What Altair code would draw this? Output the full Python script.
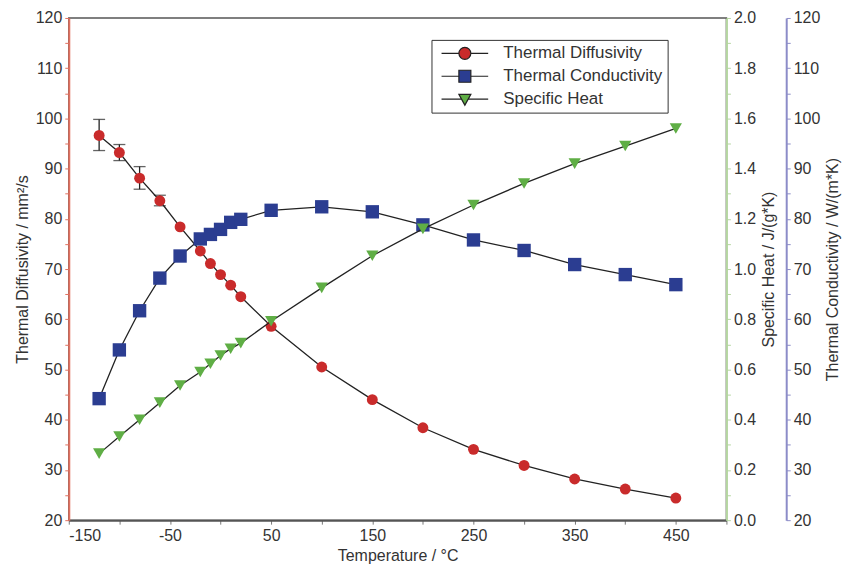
import altair as alt
import pandas as pd

# ---------------- data ----------------
temps = [-120, -100, -80, -60, -40, -20, -10, 0, 10, 20, 50, 100, 150, 200, 250, 300, 350, 400, 450]
diffusivity = [96.6, 93.2, 88.1, 83.6, 78.4, 73.6, 71.1, 68.9, 66.8, 64.5, 58.6, 50.5,
               44.0, 38.4, 34.1, 30.9, 28.2, 26.2, 24.4]
conductivity = [44.2, 53.9, 61.7, 68.2, 72.6, 76.0, 76.9, 77.9, 79.3, 79.9, 81.7, 82.4,
                81.4, 78.8, 75.8, 73.7, 70.9, 68.9, 66.9]
specific_heat = [0.265, 0.333, 0.40, 0.468, 0.536, 0.59, 0.623, 0.656, 0.683, 0.705, 0.792,
                 0.925, 1.053, 1.16, 1.255, 1.341, 1.42, 1.49, 1.56]
err_temps = [-120, -100, -80, -60]
err_low = [93.6, 91.6, 85.9, 82.6]
err_high = [99.8, 94.8, 90.4, 84.7]

series_names = ["Thermal Diffusivity", "Thermal Conductivity", "Specific Heat"]
series_colors = ["#c92b2b", "#2b3d91", "#5fae45"]

x_ticks = list(range(-150, 501, 50))
left_ticks = list(range(20, 121, 5))
green_ticks = [round(i * 0.1, 1) for i in range(0, 21)]

# ---------------- style ----------------
FONT = "Liberation Sans"
TXT = "#333333"
RED_AX = "#e0705f"
GREEN_AX = "#b5d6a0"
BLUE_AX = "#8c8cc8"
LINE = "#222222"

legend_paths = [
    "M-3.9,0H-1M1,0H3.9M-1,0A1,1 0 1,0 1,0A1,1 0 1,0 -1,0Z",
    "M-3.9,0H-1M1,0H3.9M-1,-1H1V1H-1Z",
    "M-3.9,0H-0.55M0.55,0H3.9M-1,-0.8L1,-0.8L0,1Z",
]

df_d = pd.DataFrame({"T": temps, "v": diffusivity})
df_c = pd.DataFrame({"T": temps, "v": conductivity})
df_s = pd.DataFrame({"T": temps, "v": specific_heat})
df_e = pd.DataFrame({"T": err_temps, "lo": err_low, "hi": err_high})
df_leg = pd.DataFrame({"series": series_names})

x_axis = alt.Axis(
    values=x_ticks,
    labelExpr="((datum.value + 150) % 100 == 0 && datum.value <= 450) ? ('' + datum.value) : ''",
    title="Temperature / °C",
    domainColor="#555555", domainWidth=2,
    tickColor="#777777", tickSize=4, labelPadding=3, titlePadding=4,
    grid=False,
)
X = alt.X("T:Q", scale=alt.Scale(domain=[-150, 500], nice=False, zero=False), axis=x_axis)


def yaxis(title, orient, color, values, label_expr, offset=0, angle=None, baseline=None):
    kw = dict(
        orient=orient, values=values, labelExpr=label_expr, title=title,
        domainColor=color, domainWidth=2, tickColor=color, tickSize=4,
        labelPadding=3, grid=False, offset=offset, titlePadding=5,
    )
    if angle is not None:
        kw["titleAngle"] = angle
    if baseline is not None:
        kw["titleBaseline"] = baseline
    return alt.Axis(**kw)


ax_d = yaxis("Thermal Diffusivity / mm²/s", "left", RED_AX, left_ticks,
             "datum.value % 10 == 0 ? datum.label : ''")
ax_s = yaxis("Specific Heat / J/(g*K)", "right", GREEN_AX, green_ticks,
             "round(datum.value * 10) % 2 == 0 ? format(datum.value, '.1f') : ''", 0, 270, "top")
ax_c = yaxis("Thermal Conductivity / W/(m*K)", "right", BLUE_AX, left_ticks,
             "datum.value % 10 == 0 ? datum.label : ''", 60, 270, "top")

sc_d = alt.Scale(domain=[20, 120], nice=False, zero=False)
sc_s = alt.Scale(domain=[0, 2], nice=False, zero=False)
sc_c = alt.Scale(domain=[20, 120], nice=False, zero=False)

# diffusivity layer (with error bars)
d_line = alt.Chart(df_d).mark_line(color=LINE, strokeWidth=1.3).encode(
    x=X, y=alt.Y("v:Q", scale=sc_d, axis=ax_d))
d_rule = alt.Chart(df_e).mark_rule(color=LINE, strokeWidth=1.3).encode(
    x=X, y=alt.Y("lo:Q", scale=sc_d, axis=ax_d), y2="hi:Q")
d_lo = alt.Chart(df_e).mark_tick(color=LINE, orient="horizontal", size=12, thickness=1.3).encode(
    x=X, y=alt.Y("lo:Q", scale=sc_d, axis=ax_d))
d_hi = alt.Chart(df_e).mark_tick(color=LINE, orient="horizontal", size=12, thickness=1.3).encode(
    x=X, y=alt.Y("hi:Q", scale=sc_d, axis=ax_d))
d_pts = alt.Chart(df_d).mark_point(filled=True, shape="circle", size=120, color=series_colors[0], opacity=1).encode(
    x=X, y=alt.Y("v:Q", scale=sc_d, axis=ax_d))
layer_d = alt.layer(d_rule, d_lo, d_hi, d_line, d_pts)

# conductivity layer
c_line = alt.Chart(df_c).mark_line(color=LINE, strokeWidth=1.3).encode(
    x=X, y=alt.Y("v:Q", scale=sc_c, axis=ax_c))
c_pts = alt.Chart(df_c).mark_point(filled=True, shape="square", size=180, color=series_colors[1], opacity=1).encode(
    x=X, y=alt.Y("v:Q", scale=sc_c, axis=ax_c))
layer_c = alt.layer(c_line, c_pts)

# specific heat layer
s_line = alt.Chart(df_s).mark_line(color=LINE, strokeWidth=1.3).encode(
    x=X, y=alt.Y("v:Q", scale=sc_s, axis=ax_s))
s_pts = alt.Chart(df_s).mark_point(filled=True, shape="triangle-down", size=150, color=series_colors[2], opacity=1).encode(
    x=X, y=alt.Y("v:Q", scale=sc_s, axis=ax_s))
layer_s = alt.layer(s_line, s_pts)

leg = alt.Legend(
    title=None, orient="none", legendX=364, legendY=22,
    strokeColor="#333333", fillColor="white", padding=5,
    labelFontSize=17, labelFont=FONT, labelColor=TXT,
    symbolSize=144, symbolStrokeColor=LINE, symbolStrokeWidth=1.2,
    symbolOffset=20, labelOffset=30, rowPadding=5,
)
legend_layer = alt.Chart(df_leg).mark_point(filled=True, size=144, opacity=1).encode(
    color=alt.Color("series:N", scale=alt.Scale(domain=series_names, range=series_colors), legend=leg),
    shape=alt.Shape("series:N", scale=alt.Scale(domain=series_names, range=legend_paths), legend=leg),
).transform_filter("false")

chart = alt.layer(layer_d, layer_c, layer_s, legend_layer).resolve_scale(
    y="independent"
).properties(
    width=660, height=504,
    padding={"left": 6, "top": 1, "right": 5, "bottom": 2},
).configure_view(
    stroke="#555555", strokeWidth=1.5
).configure_axis(
    labelFont=FONT, titleFont=FONT, labelFontSize=16, titleFontSize=16,
    labelColor=TXT, titleColor=TXT, titleFontWeight="normal",
)

chart.save("out.html", embed_options={"renderer": "svg", "actions": False})
